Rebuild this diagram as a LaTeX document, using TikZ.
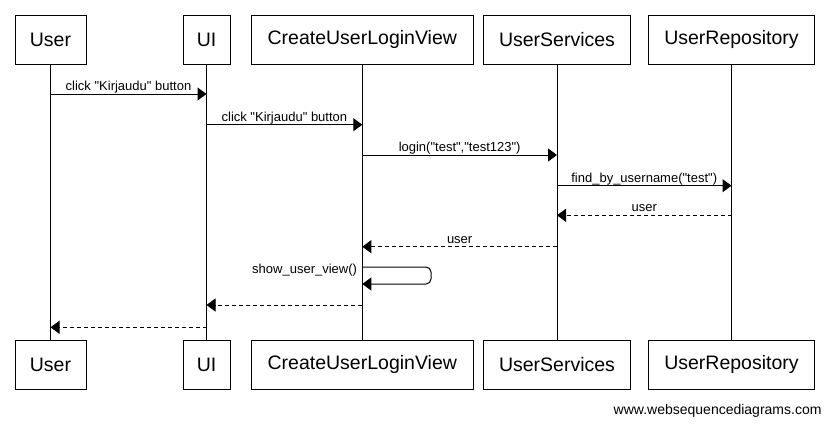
\documentclass[tikz,border=0pt]{standalone}
\usepackage{fontspec}
\newfontfamily\wsd{Liberation Sans}
\usetikzlibrary{arrows.meta}
\begin{document}
\begin{tikzpicture}[x=1pt,y=-1pt, line width=1pt,
  part/.style={draw, line width=1pt, minimum height=49pt, inner sep=0pt, font=\wsd\fontsize{19.5}{22}\selectfont},
  msg/.style={-{Triangle[length=9pt,width=13pt]}},
  ret/.style={msg, dash pattern=on 4pt off 3pt},
  lblfont/.style={font=\wsd\fontsize{13}{15}\selectfont, inner sep=0pt},
  lbl/.style={lblfont, anchor=base, yshift=3.5pt}]
\useasboundingbox (0,0) rectangle (830,424);
% participants (top)
\node[part, minimum width=71pt]  (u1) at (50.5,39.5) {User};
\node[part, minimum width=47pt]  (ui1) at (206.5,39.5) {UI};
\node[part, minimum width=222pt] (c1) at (362.3,39.5) {CreateUserLoginView};
\node[part, minimum width=147pt] (s1) at (557,39.5) {UserServices};
\node[part, minimum width=166pt] (r1) at (731.5,39.5) {UserRepository};
% participants (bottom)
\node[part, minimum width=71pt]  (u2) at (50.5,364.7) {User};
\node[part, minimum width=47pt]  (ui2) at (206.5,364.7) {UI};
\node[part, minimum width=222pt] (c2) at (362.3,364.7) {CreateUserLoginView};
\node[part, minimum width=147pt] (s2) at (557,364.7) {UserServices};
\node[part, minimum width=166pt] (r2) at (731.5,364.7) {UserRepository};
% lifelines
\draw (u1.south) -- (u2.north);
\draw (ui1.south) -- (ui2.north);
\draw (c1.south) -- (c2.north);
\draw (s1.south) -- (s2.north);
\draw (r1.south) -- (r2.north);
% messages
\draw[msg] (u1.south |- 0,94) -- node[lbl]{click "Kirjaudu" button} (ui1.south |- 0,94);
\draw[msg] (ui1.south |- 0,124.7) -- node[lbl]{click "Kirjaudu" button} (c1.south |- 0,124.7);
\draw[msg] (c1.south |- 0,155) -- node[lbl]{login("test","test123")} (s1.south |- 0,155);
\draw[msg] (s1.south |- 0,185.7) -- node[lbl]{find\_by\_username("test")} (r1.south |- 0,185.7);
\draw[ret] (r1.south |- 0,215.3) -- node[lbl]{user} (s1.south |- 0,215.3);
\draw[ret] (s1.south |- 0,246.7) -- node[lbl]{user} (c1.south |- 0,246.7);
\coordinate (loopa) at (431,267);
\coordinate (loopb) at (431,284);
\draw[msg, rounded corners=5pt] (c1.south |- 0,267) -- (loopa) -- (loopb) -- (c1.south |- 0,284);
\node[lblfont, anchor=base east] (sl) at (357.5,273) {show\_user\_view()};
\draw[ret] (c1.south |- 0,305) -- (ui1.south |- 0,305);
\draw[ret] (ui1.south |- 0,327.3) -- (u1.south |- 0,327.3);
% footer
\node[font=\wsd\fontsize{14}{16}\selectfont, anchor=base east, inner sep=0pt] (ft) at (822,414) {www.websequencediagrams.com};
\end{tikzpicture}
\end{document}
